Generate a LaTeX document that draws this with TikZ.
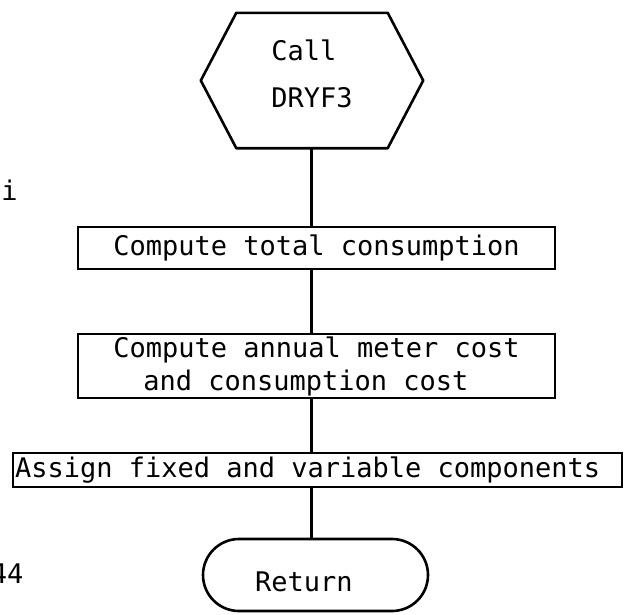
\documentclass[tikz,border=0pt]{standalone}
\usepackage{fontspec}
\setmonofont{DejaVu Sans Mono}
\usetikzlibrary{calc}
\begin{document}
\begin{tikzpicture}[x=1pt,y=-1pt,
  lw/.style={line width=2.6pt},
  txt/.style={font=\ttfamily\fontsize{27}{33}\selectfont},
  procbox/.style={draw, lw, txt, inner sep=0pt},
]
\useasboundingbox (0,0) rectangle (626,614);
\clip (0,0) rectangle (626,614);
% margin texts
\node[txt, inner sep=0pt, anchor=base] (mi) at (9.5,200) {i};
\node[txt, inner sep=0pt, anchor=base east] (m44) at (23.5,583) {44};
% hexagon
\node[minimum width=222pt, minimum height=135pt, inner sep=0pt] (hex) at (312,80.5) {};
\draw[lw, line join=round] (hex.west) -- ([xshift=35.5pt]hex.north west) -- ([xshift=-35.5pt]hex.north east)
  -- (hex.east) -- ([xshift=-35.5pt]hex.south east) -- ([xshift=35.5pt]hex.south west) -- cycle;
\node[font=\ttfamily\fontsize{27}{47}\selectfont, align=left, inner sep=0pt] (hextext) at (312,74.3) {Call\\DRYF3};
% boxes
\node[procbox, minimum width=477pt, minimum height=42pt] (b1) at (316.5,248) {Compute total consumption};
\node[procbox, minimum width=477pt, minimum height=64pt, align=left] (b2) at (316.5,366)
  {Compute annual meter cost\\\hspace*{30pt}and consumption cost};
\node[procbox, minimum width=609pt, minimum height=34pt] (b3) at (317.5,470)
  {\makebox[605pt][l]{Assign fixed and variable components}};
\node[draw, lw, txt, rounded corners=36pt, inner sep=0pt, text height=52pt, text depth=20pt] (ret) at (315.5,575)
  {\makebox[225pt][l]{\hspace*{52pt}Return}};
% connectors
\coordinate (spine) at (311.5,0);
\draw[lw] (hex.south -| spine) -- (b1.north -| spine);
\draw[lw] (b1.south -| spine) -- (b2.north -| spine);
\draw[lw] (b2.south -| spine) -- (b3.north -| spine);
\draw[lw] (b3.south -| spine) -- (ret.north -| spine);
\end{tikzpicture}
\end{document}
